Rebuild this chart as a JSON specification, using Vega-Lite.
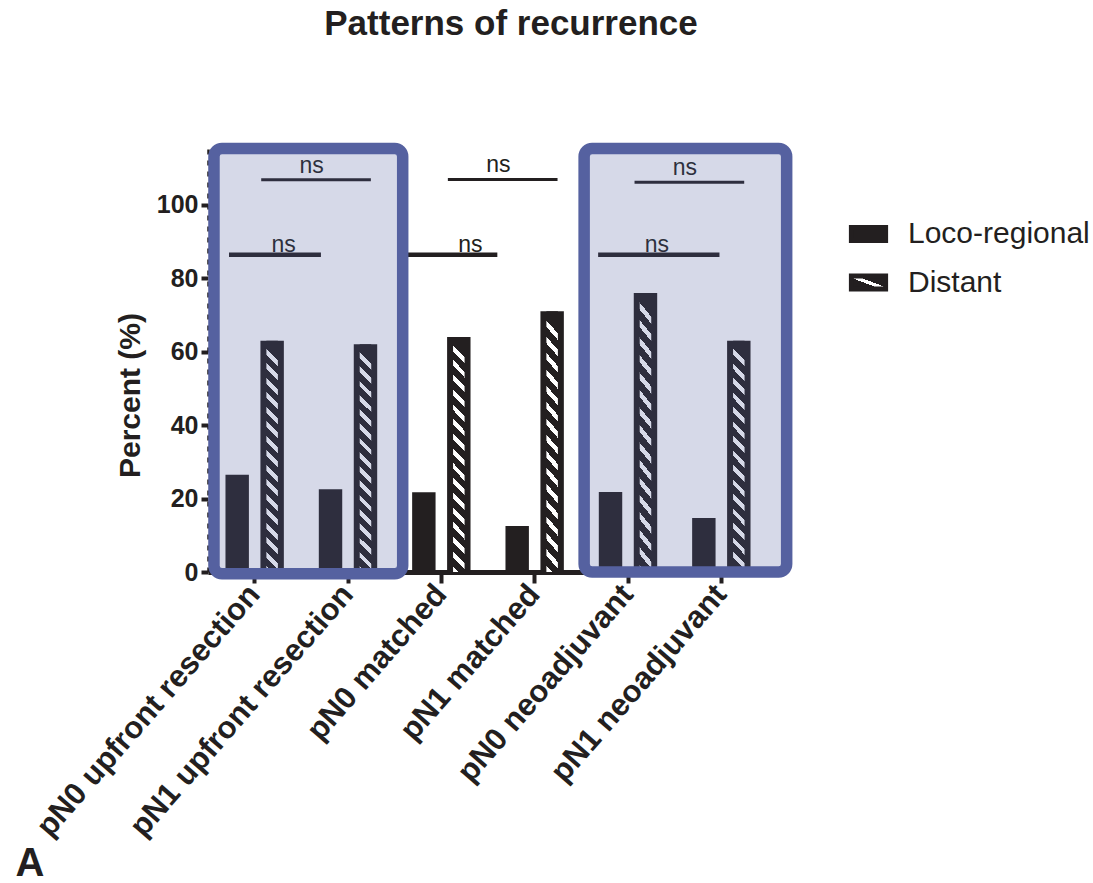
{
  "$schema": "https://vega.github.io/schema/vega-lite/v6.json",
  "autosize": {"type": "none"},
  "padding": {"left": 208, "top": 146, "right": 325, "bottom": 311},
  "width": 560,
  "height": 426,
  "background": "white",
  "config": {"view": {"stroke": null}, "font": "Liberation Sans"},
  "title": {"text": "Patterns of recurrence", "fontSize": 35, "fontWeight": "bold", "font": "Liberation Sans", "color": "#231f20", "anchor": "middle", "frame": "group", "dx": 23, "baseline": "alphabetic", "offset": 73},
  "datasets": {
    "bars": [
      {"group": "pN0 upfront resection", "series": "Loco-regional", "value": 26.5},
      {"group": "pN0 upfront resection", "series": "Distant", "value": 63},
      {"group": "pN1 upfront resection", "series": "Loco-regional", "value": 22.5},
      {"group": "pN1 upfront resection", "series": "Distant", "value": 62},
      {"group": "pN0 matched", "series": "Loco-regional", "value": 21.7},
      {"group": "pN0 matched", "series": "Distant", "value": 64},
      {"group": "pN1 matched", "series": "Loco-regional", "value": 12.5},
      {"group": "pN1 matched", "series": "Distant", "value": 71},
      {"group": "pN0 neoadjuvant", "series": "Loco-regional", "value": 21.8},
      {"group": "pN0 neoadjuvant", "series": "Distant", "value": 76},
      {"group": "pN1 neoadjuvant", "series": "Loco-regional", "value": 14.7},
      {"group": "pN1 neoadjuvant", "series": "Distant", "value": 63}
    ],
    "sig": [
      {"pair": "upfront", "level": "upper", "from": "pN0 upfront resection", "to": "pN1 upfront resection", "bracket": 106.8, "label": "ns"},
      {"pair": "upfront", "level": "lower", "from": "pN0 upfront resection", "to": "pN1 upfront resection", "bracket": 86.4, "label": "ns"},
      {"pair": "matched", "level": "upper", "from": "pN0 matched", "to": "pN1 matched", "bracket": 106.9, "label": "ns"},
      {"pair": "matched", "level": "lower", "from": "pN0 matched", "to": "pN1 matched", "bracket": 86.4, "label": "ns"},
      {"pair": "neoadjuvant", "level": "upper", "from": "pN0 neoadjuvant", "to": "pN1 neoadjuvant", "bracket": 106.1, "label": "ns"},
      {"pair": "neoadjuvant", "level": "lower", "from": "pN0 neoadjuvant", "to": "pN1 neoadjuvant", "bracket": 86.4, "label": "ns"}
    ],
    "boxes": [
      {"box": 1, "from": "pN0 upfront resection", "to": "pN1 upfront resection"},
      {"box": 2, "from": "pN0 neoadjuvant", "to": "pN1 neoadjuvant"}
    ]
  },
  "layer": [
    {
      "data": {"name": "bars"},
      "mark": {"type": "bar", "fill": "#231f20"},
      "encoding": {
        "x": {
          "field": "group", "type": "nominal",
          "scale": {"domain": ["pN0 upfront resection", "pN1 upfront resection", "pN0 matched", "pN1 matched", "pN0 neoadjuvant", "pN1 neoadjuvant"], "paddingInner": 0, "paddingOuter": 0},
          "axis": {
            "title": "A", "titleX": -193, "titleY": 303, "titleAngle": 0, "titleAlign": "left", "titleBaseline": "alphabetic",
            "titleFontSize": 40, "titleFontWeight": "bold", "titleColor": "#231f20",
            "labelAngle": -49, "labelFontSize": 31, "labelFontWeight": "bold", "labelColor": "#231f20", "labelLimit": 600, "labelPadding": 6, "labelOverlap": false,
            "tickSize": 11, "tickWidth": 4, "tickColor": "#231f20", "domainColor": "#231f20", "domainWidth": 5, "grid": false
          }
        },
        "xOffset": {"field": "series", "type": "nominal", "scale": {"domain": ["Loco-regional", "Distant"], "paddingInner": 0.33, "paddingOuter": 0.5}},
        "y": {
          "field": "value", "type": "quantitative",
          "scale": {"domain": [0, 116], "nice": false, "zero": true},
          "axis": {
            "values": [0, 20, 40, 60, 80, 100], "title": "Percent (%)", "titleFontSize": 30, "titleFontWeight": "bold", "titleColor": "#231f20",
            "titleX": -63, "titleY": 249, "titleAngle": -90, "titleBaseline": "bottom", "titleAlign": "center",
            "labelFontSize": 25, "labelFontWeight": "bold", "labelColor": "#231f20", "labelPadding": 3, "labelFlush": false, "labelOverlap": false,
            "tickSize": 7, "tickWidth": 4, "tickColor": "#231f20", "domainColor": "#231f20", "domainWidth": 2.5, "domainDash": [5, 6], "grid": false
          }
        }
      }
    },
    {
      "data": {"name": "bars"},
      "mark": {"type": "bar"},
      "encoding": {
        "x": {"field": "group", "type": "nominal"},
        "xOffset": {"field": "series", "type": "nominal"},
        "y": {"datum": 0, "type": "quantitative"},
        "fill": {
          "field": "series", "type": "nominal",
          "scale": {"domain": ["Loco-regional", "Distant"], "range": ["#231f20", {"expr": "{gradient: 'linear', x1: 1, y1: 0, x2: 0, y2: 1, stops: [{offset: 0, color: '#231f20'}, {offset: 0.43, color: '#231f20'}, {offset: 0.43, color: '#ffffff'}, {offset: 0.57, color: '#ffffff'}, {offset: 0.57, color: '#231f20'}, {offset: 1, color: '#231f20'}]}"}]},
          "legend": {
            "orient": "none", "legendX": 639, "legendY": 66.5, "title": null, "padding": 0,
            "symbolType": "M-0.9,-0.34L0.9,-0.34L0.9,0.34L-0.9,0.34Z", "symbolSize": 1444,
            "labelFontSize": 30, "labelColor": "#231f20", "labelOffset": 18, "rowPadding": 10.5, "labelLimit": 500,
            "encode": {
              "symbols": {
                "update": {
                  "stroke": {"value": "#231f20"},
                  "strokeWidth": {"value": 5},
                  "opacity": {"value": 1}
                }
              }
            }
          }
        }
      }
    },
    {
      "data": {"name": "bars"},
      "transform": [{"filter": "datum.series === 'Distant'"}],
      "mark": {"type": "bar", "width": 11.5, "fill": {"gradient": "linear", "x1": 0.05, "y1": 0, "x2": 0, "y2": 1, "stops": [
        {"offset": 0, "color": "#231f20"}, {"offset": 0.0375, "color": "#231f20"}, {"offset": 0.0375, "color": "#ffffff"}, {"offset": 0.0625, "color": "#ffffff"},
        {"offset": 0.0625, "color": "#231f20"}, {"offset": 0.1, "color": "#231f20"}, {"offset": 0.1, "color": "#ffffff"}, {"offset": 0.125, "color": "#ffffff"},
        {"offset": 0.125, "color": "#231f20"}, {"offset": 0.1625, "color": "#231f20"}, {"offset": 0.1625, "color": "#ffffff"}, {"offset": 0.1875, "color": "#ffffff"},
        {"offset": 0.1875, "color": "#231f20"}, {"offset": 0.225, "color": "#231f20"}, {"offset": 0.225, "color": "#ffffff"}, {"offset": 0.25, "color": "#ffffff"},
        {"offset": 0.25, "color": "#231f20"}, {"offset": 0.2875, "color": "#231f20"}, {"offset": 0.2875, "color": "#ffffff"}, {"offset": 0.3125, "color": "#ffffff"},
        {"offset": 0.3125, "color": "#231f20"}, {"offset": 0.35, "color": "#231f20"}, {"offset": 0.35, "color": "#ffffff"}, {"offset": 0.375, "color": "#ffffff"},
        {"offset": 0.375, "color": "#231f20"}, {"offset": 0.4125, "color": "#231f20"}, {"offset": 0.4125, "color": "#ffffff"}, {"offset": 0.4375, "color": "#ffffff"},
        {"offset": 0.4375, "color": "#231f20"}, {"offset": 0.475, "color": "#231f20"}, {"offset": 0.475, "color": "#ffffff"}, {"offset": 0.5, "color": "#ffffff"},
        {"offset": 0.5, "color": "#231f20"}, {"offset": 0.5375, "color": "#231f20"}, {"offset": 0.5375, "color": "#ffffff"}, {"offset": 0.5625, "color": "#ffffff"},
        {"offset": 0.5625, "color": "#231f20"}, {"offset": 0.6, "color": "#231f20"}, {"offset": 0.6, "color": "#ffffff"}, {"offset": 0.625, "color": "#ffffff"},
        {"offset": 0.625, "color": "#231f20"}, {"offset": 0.6625, "color": "#231f20"}, {"offset": 0.6625, "color": "#ffffff"}, {"offset": 0.6875, "color": "#ffffff"},
        {"offset": 0.6875, "color": "#231f20"}, {"offset": 0.725, "color": "#231f20"}, {"offset": 0.725, "color": "#ffffff"}, {"offset": 0.75, "color": "#ffffff"},
        {"offset": 0.75, "color": "#231f20"}, {"offset": 0.7875, "color": "#231f20"}, {"offset": 0.7875, "color": "#ffffff"}, {"offset": 0.8125, "color": "#ffffff"},
        {"offset": 0.8125, "color": "#231f20"}, {"offset": 0.85, "color": "#231f20"}, {"offset": 0.85, "color": "#ffffff"}, {"offset": 0.875, "color": "#ffffff"},
        {"offset": 0.875, "color": "#231f20"}, {"offset": 0.9125, "color": "#231f20"}, {"offset": 0.9125, "color": "#ffffff"}, {"offset": 0.9375, "color": "#ffffff"},
        {"offset": 0.9375, "color": "#231f20"}, {"offset": 0.975, "color": "#231f20"}, {"offset": 0.975, "color": "#ffffff"}, {"offset": 1, "color": "#ffffff"}
      ]}},
      "encoding": {
        "x": {"field": "group", "type": "nominal"},
        "xOffset": {"field": "series", "type": "nominal"},
        "y": {"field": "value", "type": "quantitative"}
      }
    },
    {
      "data": {"name": "sig"},
      "transform": [{"filter": "datum.level === 'upper'"}],
      "mark": {"type": "rule", "color": "#231f20", "strokeWidth": 3},
      "encoding": {
        "x": {"field": "from", "type": "nominal", "bandPosition": 0.57},
        "x2": {"field": "to", "bandPosition": 0.745},
        "y": {"field": "bracket", "type": "quantitative"}
      }
    },
    {
      "data": {"name": "sig"},
      "transform": [{"filter": "datum.level === 'lower' && datum.pair === 'upfront'"}],
      "mark": {"type": "rule", "color": "#231f20", "strokeWidth": 4.5},
      "encoding": {
        "x": {"field": "from", "type": "nominal", "bandPosition": 0.225},
        "x2": {"field": "to", "bandPosition": 0.21},
        "y": {"field": "bracket", "type": "quantitative"}
      }
    },
    {
      "data": {"name": "sig"},
      "transform": [{"filter": "datum.level === 'lower' && datum.pair === 'matched'"}],
      "mark": {"type": "rule", "color": "#231f20", "strokeWidth": 4.5},
      "encoding": {
        "x": {"field": "from", "type": "nominal", "bandPosition": 0.11},
        "x2": {"field": "to", "bandPosition": 0.1},
        "y": {"field": "bracket", "type": "quantitative"}
      }
    },
    {
      "data": {"name": "sig"},
      "transform": [{"filter": "datum.level === 'lower' && datum.pair === 'neoadjuvant'"}],
      "mark": {"type": "rule", "color": "#231f20", "strokeWidth": 4.5},
      "encoding": {
        "x": {"field": "from", "type": "nominal", "bandPosition": 0.18},
        "x2": {"field": "to", "bandPosition": 0.48},
        "y": {"field": "bracket", "type": "quantitative"}
      }
    },
    {
      "data": {"name": "sig"},
      "transform": [{"filter": "datum.level === 'upper'"}],
      "mark": {"type": "text", "fontSize": 23, "color": "#231f20", "baseline": "alphabetic", "dy": -7, "font": "Liberation Sans"},
      "encoding": {
        "x": {"field": "to", "type": "nominal", "bandPosition": 0.11},
        "y": {"field": "bracket", "type": "quantitative"},
        "text": {"field": "label"}
      }
    },
    {
      "data": {"name": "sig"},
      "transform": [{"filter": "datum.level === 'lower'"}],
      "mark": {"type": "text", "fontSize": 23, "color": "#231f20", "baseline": "alphabetic", "dy": -3, "font": "Liberation Sans"},
      "encoding": {
        "x": {"field": "from", "type": "nominal", "bandPosition": 0.81},
        "y": {"field": "bracket", "type": "quantitative"},
        "text": {"field": "label"}
      }
    },
    {
      "data": {"name": "boxes"},
      "transform": [{"filter": "datum.box === 1"}],
      "mark": {"type": "rect", "fill": "#5561a0", "fillOpacity": 0.24, "stroke": "#5561a0", "strokeWidth": 11.5, "cornerRadius": 8},
      "encoding": {
        "x": {"field": "from", "type": "nominal", "bandPosition": 0.064},
        "x2": {"field": "to", "bandPosition": 1.086},
        "y": {"datum": 115.3, "type": "quantitative"},
        "y2": {"datum": -0.5}
      }
    },
    {
      "data": {"name": "boxes"},
      "transform": [{"filter": "datum.box === 2"}],
      "mark": {"type": "rect", "fill": "#5561a0", "fillOpacity": 0.24, "stroke": "#5561a0", "strokeWidth": 11.5, "cornerRadius": 8},
      "encoding": {
        "x": {"field": "from", "type": "nominal", "bandPosition": 0.03},
        "x2": {"field": "to", "bandPosition": 1.2},
        "y": {"datum": 115.3, "type": "quantitative"},
        "y2": {"datum": 0}
      }
    }
  ]
}
